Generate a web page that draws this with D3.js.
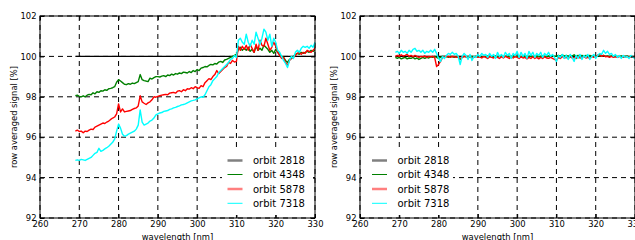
<!DOCTYPE html>
<html>
<head>
<meta charset="utf-8">
<script src="https://cdn.jsdelivr.net/npm/d3@7"></script>
<style>
  body { margin: 0; background: #fff; }
  svg { display: block; font-family: "DejaVu Sans", sans-serif; }
</style>
</head>
<body>
<svg id="chart" width="635" height="240"></svg>
<script>
// wavelength grid [nm], 0.5 nm steps
const wavelengths = [
  269, 269.5, 270, 270.5, 271, 271.5, 272, 272.5, 273, 273.5,
  274, 274.5, 275, 275.5, 276, 276.5, 277, 277.5, 278, 278.5,
  279, 279.5, 280, 280.5, 281, 281.5, 282, 282.5, 283, 283.5,
  284, 284.5, 285, 285.5, 286, 286.5, 287, 287.5, 288, 288.5,
  289, 289.5, 290, 290.5, 291, 291.5, 292, 292.5, 293, 293.5,
  294, 294.5, 295, 295.5, 296, 296.5, 297, 297.5, 298, 298.5,
  299, 299.5, 300, 300.5, 301, 301.5, 302, 302.5, 303, 303.5,
  304, 304.5, 305, 305.5, 306, 306.5, 307, 307.5, 308, 308.5,
  309, 309.5, 310, 310.5, 311, 311.5, 312, 312.5, 313, 313.5,
  314, 314.5, 315, 315.5, 316, 316.5, 317, 317.5, 318, 318.5,
  319, 319.5, 320, 320.5, 321, 321.5, 322, 322.5, 323, 323.5,
  324, 324.5, 325, 325.5, 326, 326.5, 327, 327.5, 328, 328.5,
  329, 329.5, 330
];

// reference orbit (normalised to itself)
const refWavelengths = [269, 330];
const left2818 = [100, 100];
const right2818 = [100, 100];

// left panel
const left4348 = [
  98.05, 98.08, 98.02, 98.0, 98.05, 98.0, 98.08, 98.12, 98.1, 98.2,
  98.15, 98.25, 98.22, 98.3, 98.28, 98.35, 98.32, 98.4, 98.42, 98.45,
  98.5, 98.72, 98.85, 98.78, 98.7, 98.62, 98.6, 98.65, 98.62, 98.68,
  98.65, 98.7, 98.75, 99.1, 98.85, 98.8, 98.78, 98.75, 98.92, 98.88,
  98.95, 99.0, 99.0, 98.98, 99.02, 99.05, 99.0, 99.08, 99.05, 99.12,
  99.08, 99.15, 99.12, 99.18, 99.15, 99.22, 99.2, 99.18, 99.25, 99.2,
  99.3, 99.25, 99.35, 99.3, 99.42, 99.45, 99.5, 99.48, 99.55, 99.6,
  99.58, 99.65, 99.62, 99.72, 99.75, 99.7, 99.82, 99.85, 99.9, 99.95,
  100.0, 100.05, 100.1, 100.35, 100.45, 100.3, 100.4, 100.3, 100.45, 100.25,
  100.35, 100.2, 100.5, 100.3, 100.4, 100.3, 100.55, 100.45, 100.35, 100.2,
  100.3, 100.15, 100.35, 100.2, 100.1, 100.0, 99.95, 99.8, 99.7, 99.85,
  99.9, 100.0, 100.1, 100.15, 100.1, 100.2, 100.15, 100.2, 100.25, 100.2,
  100.3, 100.25, 100.3
];
const left5878 = [
  96.3, 96.35, 96.28, 96.3, 96.22, 96.3, 96.28, 96.35, 96.4, 96.38,
  96.5, 96.55, 96.6, 96.65, 96.7, 96.68, 96.75, 96.8, 96.88, 96.95,
  97.0, 97.15, 97.65, 97.25, 97.4, 97.25, 97.28, 97.3, 97.32, 97.38,
  97.42, 97.45, 97.55, 98.05, 97.75, 97.68, 97.62, 97.7, 97.75, 97.85,
  98.0, 97.98, 98.02, 98.05, 98.08, 98.1, 98.12, 98.1, 98.18, 98.2,
  98.22, 98.18, 98.28, 98.3, 98.25, 98.35, 98.3, 98.4, 98.38, 98.45,
  98.4, 98.5, 98.45, 98.42, 98.55, 98.5, 98.7, 98.8, 98.9, 98.85,
  99.0, 99.1, 99.3, 99.15, 99.25, 99.35, 99.45, 99.5, 99.7, 99.65,
  99.8, 99.72, 99.75, 100.5, 100.3, 100.5, 100.35, 100.55, 100.3, 100.6,
  100.4, 100.2, 100.6, 100.3, 100.8, 100.55, 100.5, 100.9, 100.6, 100.3,
  100.45, 100.7, 100.5, 100.2, 100.05, 99.9, 99.95, 99.7, 99.55, 99.8,
  99.9, 99.95, 100.05, 100.15, 100.2, 100.1, 100.2, 100.15, 100.3, 100.25,
  100.2, 100.3, 100.4
];
const left7318 = [
  94.85, 94.88, 94.85, 94.9, 94.88, 94.85, 94.9, 94.95, 95.0, 95.1,
  95.2, 95.25, 95.45, 95.3, 95.35, 95.42, 95.48, 95.55, 95.65, 95.75,
  95.9, 96.3, 96.65, 96.45, 96.15, 96.05, 96.08, 96.15, 96.2, 96.25,
  96.3, 96.4, 96.6, 97.35, 96.75, 96.6, 96.65, 96.7, 96.8, 96.85,
  96.95, 97.1, 97.15, 97.2, 97.22, 97.28, 97.3, 97.32, 97.38, 97.4,
  97.45, 97.48, 97.52, 97.55, 97.6, 97.62, 97.65, 97.7, 97.75, 97.8,
  97.82, 97.85, 97.9, 97.95, 98.0, 97.98, 98.1, 98.3, 98.5, 98.6,
  98.8, 98.9, 99.0, 99.2, 99.3, 99.4, 99.5, 99.6, 99.7, 99.85,
  99.9, 100.05, 99.95, 100.8, 100.9, 100.7, 100.6, 101.1, 100.7, 100.5,
  100.8, 100.6, 101.2, 100.9, 100.6, 100.9, 101.35, 101.2, 100.8, 101.1,
  100.5, 100.9, 100.7, 100.3, 100.2, 100.0, 99.8, 99.65, 99.45, 99.8,
  100.0, 99.9, 100.2, 100.3, 100.2, 100.4, 100.5, 100.45, 100.5, 100.4,
  100.55, 100.45, 100.7
];

// right panel
const right4348 = [
  99.95, 99.9, 99.95, 99.88, 99.92, 99.95, 99.88, 99.92, 99.9, 99.95,
  99.88, 99.92, 99.85, 99.9, 99.95, 99.9, 99.95, 99.92, 99.98, 99.95,
  100.0, 99.95, 99.9, 99.95, 100.0, 99.98, 100.0, 99.95, 100.0, 99.98,
  99.95, 100.0, 99.95, 99.85, 99.95, 100.0, 99.98, 100.0, 99.95, 100.0,
  99.98, 100.0, 99.98, 100.0, 99.95, 100.0, 99.98, 100.02, 99.98, 100.0,
  99.95, 100.02, 99.98, 100.0, 100.02, 99.98, 100.0, 100.02, 99.98, 100.0,
  100.02, 99.98, 100.0, 100.02, 99.98, 100.0, 100.02, 99.98, 100.0, 100.02,
  99.98, 100.0, 100.02, 99.98, 100.0, 100.02, 100.0, 99.98, 100.02, 100.0,
  100.05, 100.0, 100.02, 100.05, 100.0, 100.08, 100.02, 100.05, 100.0, 100.05,
  100.02, 100.08, 100.0, 100.05, 100.02, 100.05, 100.0, 100.05, 100.02, 100.05,
  100.0, 100.03, 100.0, 100.05, 100.02, 100.0, 100.05, 100.0, 100.02, 100.0,
  100.03, 100.0, 100.02, 99.98, 100.0, 100.02, 99.98, 100.0, 100.02, 99.98,
  100.0, 99.98, 100.0
];
const right5878 = [
  100.0, 100.05, 100.0, 100.08, 100.02, 100.05, 100.1, 100.0, 100.05, 99.98,
  100.05, 100.0, 99.95, 100.0, 99.98, 100.02, 99.95, 100.0, 99.98, 100.0,
  99.95, 99.5, 99.6, 99.75, 99.95, 100.0, 99.98, 100.0, 99.95, 100.0,
  99.98, 99.95, 100.0, 99.9, 99.95, 100.0, 99.98, 99.95, 100.0, 99.92,
  99.95, 100.0, 99.95, 99.98, 99.92, 100.0, 99.95, 99.9, 100.0, 99.95,
  99.92, 100.0, 99.95, 99.9, 99.98, 99.92, 100.0, 99.95, 99.9, 99.98,
  99.92, 100.0, 99.95, 99.9, 99.98, 99.92, 99.95, 99.88, 99.95, 99.9,
  99.98, 99.9, 99.95, 99.88, 99.95, 99.9, 99.98, 99.92, 99.9, 99.95,
  99.9, 99.85, 99.8, 99.95, 99.9, 100.0, 99.92, 99.95, 99.9, 99.98,
  99.92, 99.95, 99.9, 100.0, 99.92, 99.95, 100.0, 99.92, 99.95, 99.9,
  100.0, 99.95, 100.0, 100.05, 100.1, 100.0, 100.05, 99.98, 100.0, 99.95,
  100.0, 99.95, 99.98, 99.95, 100.0, 99.95, 99.98, 99.95, 100.0, 99.95,
  99.98, 99.95, 100.0
];
const right7318 = [
  100.2, 100.25, 100.15, 100.3, 100.2, 100.25, 100.15, 100.3, 100.2, 100.35,
  100.4, 100.25, 100.3, 100.2, 100.3, 100.15, 100.25, 100.2, 100.3, 100.2,
  100.35, 100.15, 99.9, 99.75, 100.0, 99.9, 100.05, 100.15, 100.1, 100.2,
  100.1, 100.15, 100.0, 99.6, 100.0, 100.15, 100.05, 99.85, 100.1, 99.8,
  100.0, 99.95, 100.1, 100.0, 100.15, 100.05, 100.1, 99.95, 100.15, 100.0,
  100.1, 99.9, 100.2, 100.0, 100.1, 99.95, 100.2, 100.05, 100.15, 99.9,
  100.15, 100.05, 100.25, 99.95, 100.2, 100.0, 100.15, 99.9, 100.25, 100.05,
  100.2, 99.95, 100.15, 100.05, 100.2, 99.95, 100.15, 100.05, 100.2, 100.0,
  100.1, 99.95, 99.75, 100.05, 99.95, 100.1, 99.9, 100.05, 99.85, 100.1,
  99.95, 99.75, 100.05, 99.9, 100.1, 99.85, 100.05, 99.95, 100.1, 99.85,
  100.0, 100.1, 99.9, 100.05, 100.15, 100.1, 100.3, 100.15, 100.25, 100.1,
  100.15, 100.0, 100.1, 99.95, 100.05, 99.9, 100.05, 99.95, 100.0, 99.9,
  100.05, 99.95, 99.9
];

const orbitNames = ["orbit 2818", "orbit 4348", "orbit 5878", "orbit 7318"];
const lineColors = ["#000000", "#008000", "#ff0000", "#00ffff"];
const legendColors = ["#808080", "#008000", "#ff7f7f", "#00ffff"];
const legendWidths = [2.5, 1, 2.5, 1];
const xTicks = [260, 270, 280, 290, 300, 310, 320, 330];
const yTicks = [92, 94, 96, 98, 100, 102];

const svg = d3.select("#chart");

function drawPanel(left, series, legendX, legendBox) {
  const top = 16, bottom = 218, right = left + 275;
  const x = d3.scaleLinear().domain([260, 330]).range([left, right]);
  const y = d3.scaleLinear().domain([92, 102]).range([bottom, top]);
  const g = svg.append("g");

  // dashed grid
  g.append("g").selectAll("line").data(xTicks).join("line")
    .attr("x1", d => x(d)).attr("x2", d => x(d))
    .attr("y1", top).attr("y2", bottom)
    .attr("stroke", "#000").attr("stroke-width", 1)
    .attr("stroke-dasharray", "5,4");
  g.append("g").selectAll("line").data(yTicks).join("line")
    .attr("x1", left).attr("x2", right)
    .attr("y1", d => y(d)).attr("y2", d => y(d))
    .attr("stroke", "#000").attr("stroke-width", 1)
    .attr("stroke-dasharray", "5,4");

  // data lines
  const line = d3.line().x(d => x(d[0])).y(d => y(d[1]));
  series.forEach((s, i) => {
    g.append("path")
      .datum(s.wl.map((w, k) => [w, s.v[k]]))
      .attr("d", line)
      .attr("fill", "none")
      .attr("stroke", lineColors[i])
      .attr("stroke-width", 1.4)
      .attr("stroke-linejoin", "round");
  });

  // axes, ticks inward
  const fmt = d3.format("d");
  g.append("g").attr("transform", `translate(0,${bottom})`)
    .call(d3.axisBottom(x).tickValues(xTicks).tickFormat(fmt)
      .tickSizeInner(-4).tickSizeOuter(0).tickPadding(3.5));
  g.append("g").attr("transform", `translate(${left},0)`)
    .call(d3.axisLeft(y).tickValues(yTicks).tickFormat(fmt)
      .tickSizeInner(-4).tickSizeOuter(0).tickPadding(3.5));
  g.append("g").attr("transform", `translate(0,${top})`)
    .call(d3.axisTop(x).tickValues(xTicks).tickFormat("")
      .tickSizeInner(-4).tickSizeOuter(0));
  g.append("g").attr("transform", `translate(${right},0)`)
    .call(d3.axisRight(y).tickValues(yTicks).tickFormat("")
      .tickSizeInner(-4).tickSizeOuter(0));
  g.selectAll(".domain").remove();
  g.selectAll(".tick text").attr("font-size", 8.4).attr("fill", "#000")
    .attr("font-family", "DejaVu Sans");

  g.append("rect")
    .attr("x", left).attr("y", top)
    .attr("width", right - left).attr("height", bottom - top)
    .attr("fill", "none").attr("stroke", "#000").attr("stroke-width", 1);

  // axis labels
  g.append("text")
    .attr("x", (left + right) / 2).attr("y", 239.5)
    .attr("text-anchor", "middle").attr("font-size", 8.4)
    .text("wavelength [nm]");
  g.append("text")
    .attr("transform", `translate(${left - 23},${(top + bottom) / 2}) rotate(-90)`)
    .attr("text-anchor", "middle").attr("font-size", 8.4)
    .text("row averaged signal [%]");

  // legend
  g.append("rect")
    .attr("x", legendBox[0]).attr("y", 150)
    .attr("width", legendBox[1] - legendBox[0]).attr("height", 65)
    .attr("fill", "#fff");
  const rows = [160.5, 174.5, 189, 203.3];
  orbitNames.forEach((name, i) => {
    g.append("line")
      .attr("x1", legendX).attr("x2", legendX + 15)
      .attr("y1", rows[i]).attr("y2", rows[i])
      .attr("stroke", legendColors[i]).attr("stroke-width", legendWidths[i]);
    g.append("text")
      .attr("x", legendX + 25.5).attr("y", rows[i] + 3.6)
      .attr("font-size", 10)
      .text(name);
  });
}

drawPanel(40, [
  { wl: refWavelengths, v: left2818 },
  { wl: wavelengths, v: left4348 },
  { wl: wavelengths, v: left5878 },
  { wl: wavelengths, v: left7318 }
], 227.5, [222, 313]);

drawPanel(360, [
  { wl: refWavelengths, v: right2818 },
  { wl: wavelengths, v: right4348 },
  { wl: wavelengths, v: right5878 },
  { wl: wavelengths, v: right7318 }
], 372, [362, 453]);
</script>
</body>
</html>
